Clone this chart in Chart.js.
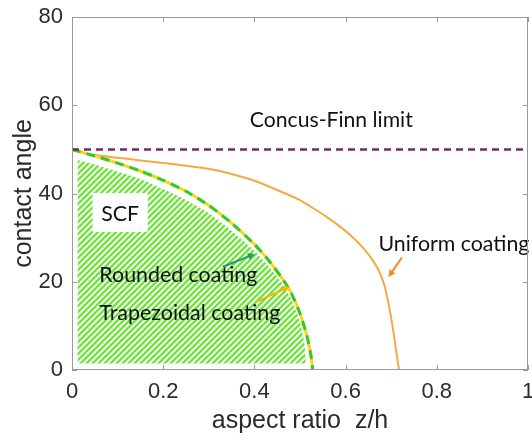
<!DOCTYPE html>
<html>
<head>
<meta charset="utf-8">
<script src="https://cdn.jsdelivr.net/npm/chart.js@4/dist/chart.umd.min.js"></script>
<style>
  html, body { margin: 0; padding: 0; background: #fff; }
  canvas { display: block; }
</style>
</head>
<body>
<canvas id="scfChart" width="532" height="441"></canvas>
<script>
// values (x = aspect ratio z/h, y = contact angle)
var xTicks = [0, 0.2, 0.4, 0.6, 0.8, 1];
var yTicks = [0, 20, 40, 60, 80];

var uniformX = [0, 0.02, 0.05, 0.1, 0.15, 0.2, 0.25, 0.3, 0.35, 0.4, 0.45, 0.5, 0.53, 0.56, 0.588, 0.61, 0.63, 0.647, 0.66, 0.67, 0.678, 0.685, 0.691, 0.697, 0.703, 0.708, 0.712, 0.716, 0.7176];
var uniformY = [50, 49.3, 48.7, 48.1, 47.5, 46.9, 46.3, 45.6, 44.4, 42.9, 40.8, 38.5, 36.6, 34.6, 32.5, 30.6, 28.6, 26.6, 24.8, 23.1, 21.3, 19.2, 16.6, 13.5, 9.9, 6.5, 3.6, 0.8, 0];

var coatedX = [0, 0.05, 0.1, 0.15, 0.2, 0.25, 0.3, 0.35, 0.4, 0.43, 0.46, 0.48, 0.5, 0.515, 0.524, 0.528];
var coatedY = [50, 48.5, 46.9, 45.1, 43.0, 40.5, 37.3, 33.3, 28.5, 25.0, 20.9, 17.6, 12.8, 7.8, 3.3, 0];

var scfX = [0.012, 0.05, 0.1, 0.15, 0.2, 0.25, 0.3, 0.35, 0.4, 0.43, 0.46, 0.48, 0.5, 0.51, 0.513];
var scfY = [47.6, 46.6, 45.0, 43.3, 41.0, 38.5, 35.5, 31.5, 27.0, 23.6, 19.7, 16.2, 10.8, 5.6, 1.5];
var scfFloor = 1.5;

var concusFinn = 50;

function toPoints(xs, ys) {
  return xs.map(function (x, i) { return { x: x, y: ys[i] }; });
}

// diagonal hatch for the SCF region
function makeHatch() {
  var c = document.createElement('canvas');
  c.width = 6; c.height = 6;
  var g = c.getContext('2d');
  g.strokeStyle = '#6fe63e';
  g.lineWidth = 2.4;
  g.beginPath();
  g.moveTo(-3, 3); g.lineTo(3, -3);
  g.moveTo(0, 6); g.lineTo(6, 0);
  g.moveTo(3, 9); g.lineTo(9, 3);
  g.stroke();
  return g.createPattern(c, 'repeat');
}

// text labels and arrows, in data units
var labels = [
  { text: 'Concus-Finn limit', x: 0.390, y: 55.1, w: 163 },
  { text: 'Uniform coating', x: 0.672, y: 27.0, w: 151 },
  { text: 'Rounded coating', x: 0.060, y: 20.0, w: 158 },
  { text: 'Trapezoidal coating', x: 0.060, y: 11.3, w: 181 },
  { text: 'SCF', x: 0.064, y: 33.8, w: 38 }
];
var arrows = [
  { from: [0.331, 23.4], to: [0.401, 26.3], color: '#1f9b6e' },
  { from: [0.405, 15.5], to: [0.478, 18.9], color: '#f7b500' },
  { from: [0.7235, 25.5], to: [0.694, 21.1], color: '#f28c1e' }
];
var scfBox = { x0: 0.045, x1: 0.166, y0: 31.3, y1: 40.1 };

var decorPlugin = {
  id: 'decor',
  afterDatasetsDraw: function (chart) {
    var ctx = chart.ctx, xs = chart.scales.x, ys = chart.scales.y;
    ctx.save();
    // white box behind SCF
    ctx.fillStyle = '#fff';
    var bx = xs.getPixelForValue(scfBox.x0), by = ys.getPixelForValue(scfBox.y1);
    ctx.fillRect(bx, by, xs.getPixelForValue(scfBox.x1) - bx, ys.getPixelForValue(scfBox.y0) - by);

    ctx.fillStyle = '#111';
    ctx.textBaseline = 'alphabetic';
    ctx.textAlign = 'left';
    labels.forEach(function (l) {
      ctx.font = '20px Lato';
      var m = ctx.measureText(l.text).width;
      var size = 20 * l.w / m;
      ctx.font = size.toFixed(2) + 'px Lato';
      ctx.fillText(l.text, xs.getPixelForValue(l.x), ys.getPixelForValue(l.y));
    });

    arrows.forEach(function (a) {
      var x0 = xs.getPixelForValue(a.from[0]), y0 = ys.getPixelForValue(a.from[1]);
      var x1 = xs.getPixelForValue(a.to[0]), y1 = ys.getPixelForValue(a.to[1]);
      var ang = Math.atan2(y1 - y0, x1 - x0);
      ctx.strokeStyle = a.color;
      ctx.fillStyle = a.color;
      ctx.lineWidth = 2;
      ctx.beginPath();
      ctx.moveTo(x0, y0);
      ctx.lineTo(x1 - 4 * Math.cos(ang), y1 - 4 * Math.sin(ang));
      ctx.stroke();
      ctx.beginPath();
      ctx.moveTo(x1, y1);
      ctx.lineTo(x1 - 7 * Math.cos(ang) + 3.5 * Math.sin(ang), y1 - 7 * Math.sin(ang) - 3.5 * Math.cos(ang));
      ctx.lineTo(x1 - 7 * Math.cos(ang) - 3.5 * Math.sin(ang), y1 - 7 * Math.sin(ang) + 3.5 * Math.cos(ang));
      ctx.closePath();
      ctx.fill();
    });
    ctx.restore();
  },
  afterDraw: function (chart) {
    // matlab style box with inward ticks
    var ctx = chart.ctx, a = chart.chartArea, xs = chart.scales.x, ys = chart.scales.y;
    ctx.save();
    ctx.strokeStyle = '#9a9a9a';
    ctx.lineWidth = 1;
    ctx.strokeRect(a.left + 0.5, a.top + 0.5, a.right - a.left - 1, a.bottom - a.top - 1);
    ctx.beginPath();
    xTicks.forEach(function (v) {
      var px = Math.round(xs.getPixelForValue(v)) + 0.5;
      ctx.moveTo(px, a.bottom); ctx.lineTo(px, a.bottom - 5);
      ctx.moveTo(px, a.top); ctx.lineTo(px, a.top + 5);
    });
    yTicks.forEach(function (v) {
      var py = Math.round(ys.getPixelForValue(v)) + 0.5;
      ctx.moveTo(a.left, py); ctx.lineTo(a.left + 5, py);
      ctx.moveTo(a.right, py); ctx.lineTo(a.right - 5, py);
    });
    ctx.stroke();
    ctx.restore();
  }
};

var ctx = document.getElementById('scfChart').getContext('2d');
var scfChart = new Chart(ctx, {
  type: 'scatter',
  data: {
    datasets: [
      {
        label: 'Concus-Finn limit',
        data: [{ x: 0, y: concusFinn }, { x: 1, y: concusFinn }],
        showLine: true,
        borderColor: '#6e2a6a',
        borderWidth: 2.5,
        borderDash: [7, 5],
        pointRadius: 0,
        order: 0
      },
      {
        label: 'Rounded coating',
        data: toPoints(coatedX, coatedY),
        showLine: true,
        tension: 0.2,
        borderColor: '#2fcc2f',
        borderWidth: 3,
        borderDash: [9, 6],
        pointRadius: 0,
        order: 1
      },
      {
        label: 'Trapezoidal coating',
        data: toPoints(coatedX, coatedY),
        showLine: true,
        tension: 0.2,
        borderColor: '#ffd41c',
        borderWidth: 3,
        pointRadius: 0,
        order: 2
      },
      {
        label: 'Uniform coating',
        data: toPoints(uniformX, uniformY),
        showLine: true,
        tension: 0.2,
        borderColor: '#f6a845',
        borderWidth: 2,
        pointRadius: 0,
        order: 3
      },
      {
        label: 'SCF',
        data: toPoints(scfX, scfY),
        showLine: true,
        tension: 0.2,
        borderWidth: 0,
        borderColor: 'rgba(0,0,0,0)',
        backgroundColor: makeHatch(),
        fill: { value: scfFloor },
        pointRadius: 0,
        order: 4
      }
    ]
  },
  options: {
    responsive: false,
    animation: false,
    layout: { padding: { top: 17, right: 4, left: 0, bottom: 0 } },
    plugins: {
      legend: { display: false },
      tooltip: { enabled: false }
    },
    scales: {
      x: {
        type: 'linear',
        min: 0,
        max: 1,
        afterFit: function (s) { s.height = 71; s.paddingLeft = 0; s.paddingRight = 0; },
        afterBuildTicks: function (s) { s.ticks = xTicks.map(function (v) { return { value: v }; }); },
        grid: { display: false, drawTicks: false },
        border: { display: false },
        ticks: {
          padding: 9,
          color: '#2b2b2b',
          font: { family: 'Liberation Sans', size: 22 },
          maxRotation: 0,
          callback: function (v) { return String(v); }
        },
        title: {
          display: true,
          text: 'aspect ratio  z/h',
          color: '#2b2b2b',
          font: { family: 'Liberation Sans', size: 25 },
          padding: { top: 0, bottom: 5 }
        }
      },
      y: {
        type: 'linear',
        min: 0,
        max: 80,
        afterFit: function (s) { s.width = 72; s.paddingTop = 0; s.paddingBottom = 0; },
        afterBuildTicks: function (s) { s.ticks = yTicks.map(function (v) { return { value: v }; }); },
        grid: { display: false, drawTicks: false },
        border: { display: false },
        ticks: {
          padding: 9,
          color: '#2b2b2b',
          font: { family: 'Liberation Sans', size: 22 },
          callback: function (v) { return String(v); }
        },
        title: {
          display: true,
          text: 'contact angle',
          color: '#2b2b2b',
          font: { family: 'Liberation Sans', size: 25 },
          padding: { top: 9, bottom: 0 }
        }
      }
    }
  },
  plugins: [decorPlugin]
});
</script>
</body>
</html>
